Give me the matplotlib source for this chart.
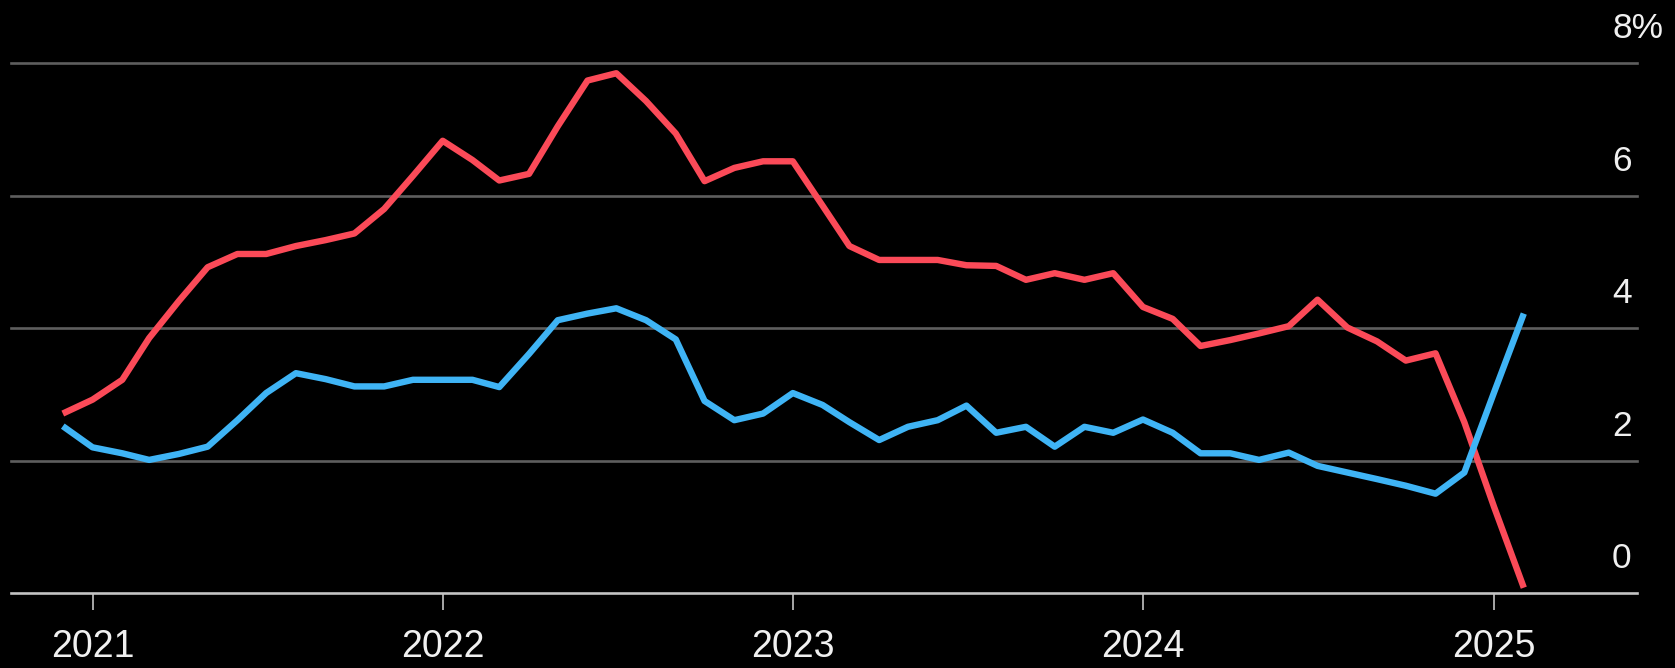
import pandas as pd
import matplotlib.pyplot as plt
import matplotlib.dates as mdates
import matplotlib.transforms as mtransforms

plt.rcParams["font.family"] = ["Liberation Sans", "DejaVu Sans"]

# --- Data (monthly, Dec 2020 - Feb 2025) ---
months = pd.date_range("2020-12-01", periods=51, freq="MS")

red_series = [
    2.71, 2.92, 3.22, 3.85, 4.41, 4.92, 5.12, 5.12, 5.24, 5.33,
    5.43, 5.80, 6.30, 6.83, 6.54, 6.23, 6.33, 7.05, 7.74, 7.85,
    7.43, 6.94, 6.22, 6.42, 6.52, 6.52, 5.85, 5.24, 5.03, 5.03,
    5.03, 4.95, 4.94, 4.73, 4.83, 4.73, 4.83, 4.32, 4.14, 3.73,
    3.82, 3.92, 4.03, 4.43, 4.01, 3.80, 3.51, 3.62, 2.58, 1.30,
    0.08,
]
blue_series = [
    2.52, 2.20, 2.11, 2.01, 2.10, 2.21, 2.61, 3.02, 3.32, 3.23,
    3.12, 3.12, 3.22, 3.22, 3.22, 3.11, 3.61, 4.12, 4.22, 4.30,
    4.12, 3.83, 2.90, 2.61, 2.71, 3.02, 2.84, 2.58, 2.31, 2.51,
    2.61, 2.83, 2.42, 2.51, 2.21, 2.51, 2.42, 2.62, 2.42, 2.11,
    2.11, 2.01, 2.12, 1.92, 1.82, 1.72, 1.62, 1.50, 1.82, 3.03,
    4.22,
]

year_ticks = pd.to_datetime(["2021-01-01", "2022-01-01", "2023-01-01",
                             "2024-01-01", "2025-01-01"])
year_labels = ["2021", "2022", "2023", "2024", "2025"]
y_values = [0, 2, 4, 6, 8]
y_labels = ["0", "2", "4", "6", "8%"]

# --- Figure ---
W, H = 1675, 668
fig = plt.figure(figsize=(W / 100, H / 100), dpi=100, facecolor="black")
ax = fig.add_axes([11 / W, (H - 593) / H, (1637 - 11) / W, (593 - 63.3) / H])
ax.set_facecolor("black")

ax.plot(months, red_series, color="#fb4a58", linewidth=4.6,
        solid_joinstyle="round", solid_capstyle="butt", clip_on=False, zorder=3)
ax.plot(months, blue_series, color="#3fb4f5", linewidth=4.6,
        solid_joinstyle="round", solid_capstyle="butt", clip_on=False, zorder=4)

ax.set_xlim(pd.Timestamp("2020-10-08"), pd.Timestamp("2025-05-30"))
ax.set_ylim(0, 8)

# horizontal gridlines
for v in y_values[1:]:
    ax.axhline(v, color="#5e5e5e", linewidth=1.9, zorder=1, clip_on=False)

for side in ["top", "right", "left"]:
    ax.spines[side].set_visible(False)
ax.spines["bottom"].set_color("#c4c4c4")
ax.spines["bottom"].set_linewidth(1.9)
ax.spines["bottom"].set_zorder(2)

ax.set_yticks([])
ax.set_xticks(year_ticks)
ax.set_xticklabels(year_labels)
ax.xaxis.set_major_formatter(mdates.DateFormatter("%Y"))
ax.tick_params(axis="x", length=12, width=1.2, color="#c4c4c4",
               labelcolor="#f0f0f0", labelsize=27, pad=14)

# y labels sit above their gridlines on the right
trans = mtransforms.blended_transform_factory(fig.transFigure, ax.transData) \
    + mtransforms.ScaledTranslation(0, 25 / 100, fig.dpi_scale_trans)
for v, lab in zip(y_values, y_labels):
    ax.text(1612 / W, v, lab, transform=trans, ha="left", va="baseline",
            color="#f0f0f0", fontsize=25.5)

plt.savefig("out.png", dpi=100, facecolor="black")
